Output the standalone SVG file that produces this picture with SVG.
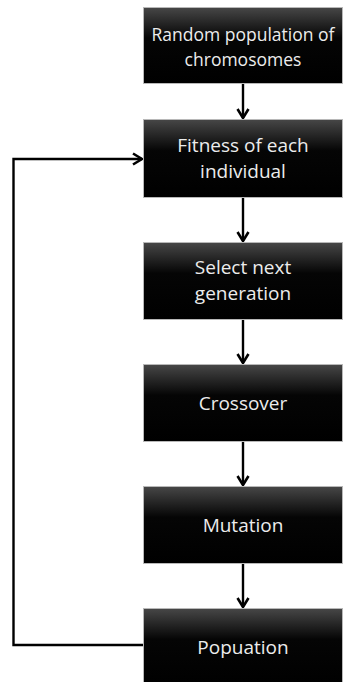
<svg xmlns="http://www.w3.org/2000/svg" width="363" height="682" viewBox="0 0 363 682">
<style>
.box{fill:url(#g);stroke:#b8b8b8;stroke-width:1}
.t{font-family:"Open Sans","Noto Sans",sans-serif;fill:#ececec;text-anchor:middle;font-size:19px}
.t1{font-size:17.5px}
.c{fill:none;stroke:#000;stroke-width:2.4}
</style>
<defs>
<linearGradient id="g" x1="0" y1="0" x2="0" y2="1">
<stop offset="0" stop-color="#474747"/>
<stop offset="0.4" stop-color="#050505"/>
<stop offset="1" stop-color="#000"/>
</linearGradient>
<marker id="a" viewBox="0 0 14 14" refX="12" refY="7" markerWidth="14" markerHeight="14" markerUnits="userSpaceOnUse" orient="auto">
<path d="M3,1.5 L12,7 L3,12.5" fill="none" stroke="#000" stroke-width="2.6"/>
</marker>
</defs>
<g id="connectors">
<line class="c" x1="243" y1="83" x2="243" y2="118" marker-end="url(#a)"/>
<line class="c" x1="243" y1="198" x2="243" y2="241" marker-end="url(#a)"/>
<line class="c" x1="243" y1="319" x2="243" y2="363" marker-end="url(#a)"/>
<line class="c" x1="243" y1="441" x2="243" y2="485" marker-end="url(#a)"/>
<line class="c" x1="243" y1="563" x2="243" y2="607" marker-end="url(#a)"/>
<polyline class="c" points="144,645 13.5,645 13.5,159 142,159" marker-end="url(#a)"/>
</g>
<g id="n1"><rect class="box" x="143.5" y="7.5" width="199" height="76"/><text class="t t1" x="243" y="41">Random population of</text><text class="t t1" x="243" y="66">chromosomes</text></g>
<g id="n2"><rect class="box" x="143.5" y="119.5" width="199" height="78"/><text class="t" x="243" y="152">Fitness of each</text><text class="t" x="243" y="178">individual</text></g>
<g id="n3"><rect class="box" x="143.5" y="242.5" width="199" height="77"/><text class="t" x="243" y="274">Select next</text><text class="t" x="243" y="300">generation</text></g>
<g id="n4"><rect class="box" x="143.5" y="364.5" width="199" height="77"/><text class="t" x="243" y="410">Crossover</text></g>
<g id="n5"><rect class="box" x="143.5" y="486.5" width="199" height="77"/><text class="t" x="243" y="532">Mutation</text></g>
<g id="n6"><rect class="box" x="143.5" y="608.5" width="199" height="77"/><text class="t" x="243" y="654">Popuation</text></g>
</svg>
